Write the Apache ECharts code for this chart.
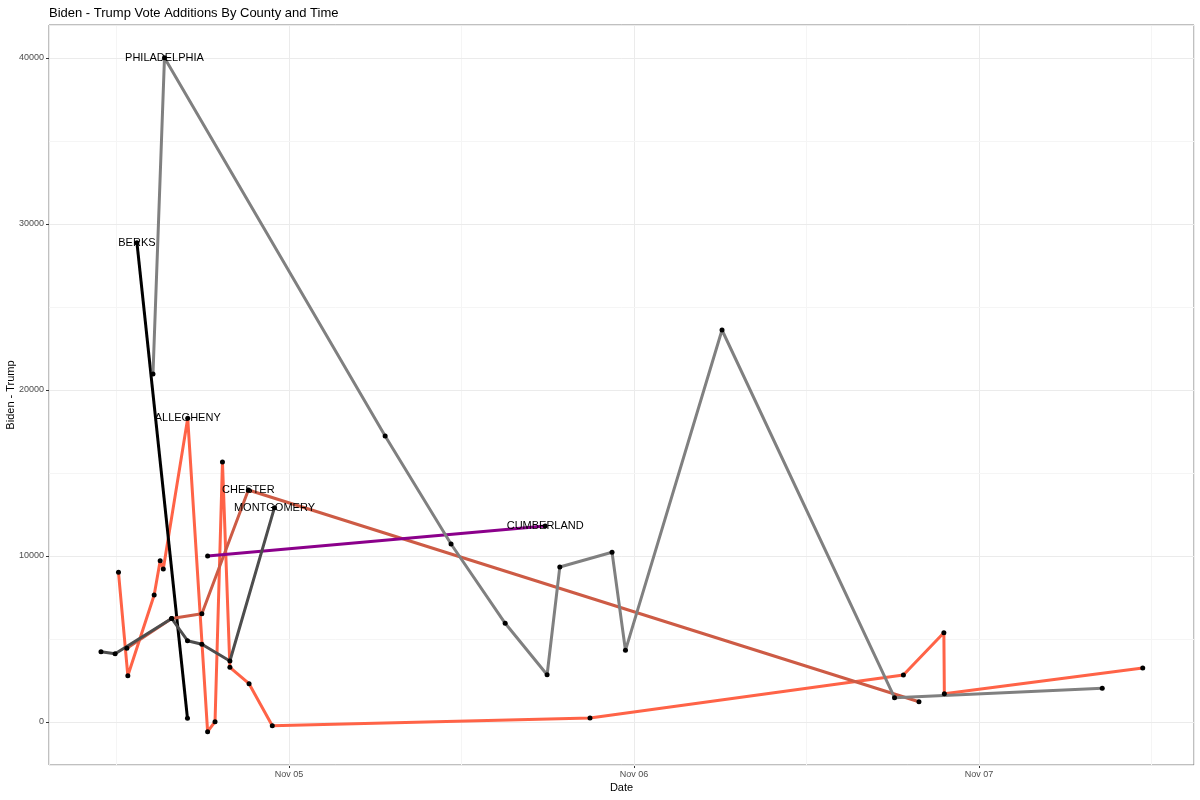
<!DOCTYPE html>
<html>
<head>
<meta charset="utf-8">
<script src="https://cdn.jsdelivr.net/npm/echarts@6/dist/echarts.min.js"></script>
<style>
html,body{margin:0;padding:0;background:#fff;}
#chart{width:1200px;height:800px;}
</style>
</head>
<body>
<div id="chart"></div>
<script>
// ---- data (time of report, Biden minus Trump vote addition) ----
const alleghenyTimes = ['2020-11-04 12:08','2020-11-04 12:47','2020-11-04 14:37','2020-11-04 15:02','2020-11-04 15:15','2020-11-04 16:57','2020-11-04 18:20','2020-11-04 18:51','2020-11-04 19:22','2020-11-04 19:53','2020-11-04 21:13','2020-11-04 22:50','2020-11-05 20:56','2020-11-06 18:44','2020-11-06 21:33','2020-11-06 21:35','2020-11-07 11:23'];
const alleghenyValues = [9018, 2789, 7651, 9717, 9217, 18295, -584, 18, 15663, 3295, 2307, -223, 241, 2831, 5380, 1705, 3253];

const berksTimes = ['2020-11-04 13:25','2020-11-04 16:56'];
const berksValues = [28873, 223];

const chesterTimes = ['2020-11-04 12:43','2020-11-04 15:50','2020-11-04 17:56','2020-11-04 21:10','2020-11-06 19:49'];
const chesterValues = [4440, 6235, 6524, 13976, 1223];

const cumberlandTimes = ['2020-11-04 18:20','2020-11-05 17:49'];
const cumberlandValues = [10000, 11807];

const montgomeryTimes = ['2020-11-04 10:55','2020-11-04 11:54','2020-11-04 15:50','2020-11-04 16:56','2020-11-04 17:56','2020-11-04 19:53','2020-11-04 22:59'];
const montgomeryValues = [4235, 4115, 6235, 4898, 4681, 3675, 12910];

const philadelphiaTimes = ['2020-11-04 14:32','2020-11-04 15:20','2020-11-05 06:41','2020-11-05 11:16','2020-11-05 15:02','2020-11-05 17:57','2020-11-05 18:50','2020-11-05 22:28','2020-11-05 23:24','2020-11-06 06:07','2020-11-06 18:07','2020-11-07 08:34'];
const philadelphiaValues = [20964, 40018, 17229, 10723, 5946, 2849, 9337, 10223, 4319, 23614, 1464, 2030];

const countyNames = ['ALLEGHENY','BERKS','CHESTER','CUMBERLAND','MONTGOMERY','PHILADELPHIA'];
const countyColors = ['#FF6347','#000000','#CD5B45','#8B008B','#4D4D4D','#808080'];
const monthNames = ['Jan','Feb','Mar','Apr','May','Jun','Jul','Aug','Sep','Oct','Nov','Dec'];

// minor (noon) grid positions on the time axis
const minorGridTimes = ['2020-11-04 12:00','2020-11-05 12:00','2020-11-06 12:00','2020-11-07 12:00'];

const xMinStr = '2020-11-04 07:18';
const xMaxStr = '2020-11-07 14:57';
const yMin = -2590;
const yMax = 41988;

function parseT(s) {
  const [d, t] = s.split(' ');
  const [Y, M, D] = d.split('-').map(Number);
  const [h, m] = t.split(':').map(Number);
  return new Date(Y, M - 1, D, h, m).getTime();
}
function pad(n){return (n < 10 ? '0' : '') + n;}

const allTimes = [alleghenyTimes, berksTimes, chesterTimes, cumberlandTimes, montgomeryTimes, philadelphiaTimes];
const allValues = [alleghenyValues, berksValues, chesterValues, cumberlandValues, montgomeryValues, philadelphiaValues];

const series = countyNames.map((name, i) => {
  const vals = allValues[i];
  const maxIdx = vals.indexOf(Math.max(...vals));
  const data = allTimes[i].map((t, j) => {
    const item = { value: [parseT(t), vals[j]] };
    if (j === maxIdx) {
      item.label = {
        show: true, position: 'inside', formatter: name,
        color: '#000', fontSize: 11, fontFamily: 'Liberation Sans, Arial, sans-serif'
      };
    }
    return item;
  });
  return {
    name: name, type: 'line', data: data,
    symbol: 'circle', symbolSize: 5, showSymbol: true,
    itemStyle: { color: '#000' },
    lineStyle: { color: countyColors[i], width: 3 },
    emphasis: { disabled: true },
    z: 10
  };
});

series.unshift({
  type: 'line', data: [], silent: true, z: 0,
  markLine: {
    silent: true, symbol: 'none', animation: false, z: 0,
    label: { show: false },
    lineStyle: { color: '#f5f5f5', width: 1, type: 'solid' },
    emphasis: { disabled: true },
    data: minorGridTimes.map(t => ({ xAxis: parseT(t) }))
  }
});

const chart = echarts.init(document.getElementById('chart'), null, { renderer: 'canvas' });
chart.setOption({
  animation: false,
  backgroundColor: '#fff',
  textStyle: { fontFamily: 'Liberation Sans, Arial, sans-serif' },
  title: {
    text: 'Biden - Trump Vote Additions By County and Time',
    left: 44, top: 2,
    textStyle: { fontSize: 13, fontWeight: 'normal', color: '#000' }
  },
  grid: {
    show: true, borderColor: '#808080', borderWidth: 1, backgroundColor: 'transparent',
    left: 49, right: 6, top: 25, bottom: 35,
    containLabel: false, outerBoundsMode: 'none'
  },
  xAxis: {
    type: 'time', min: parseT(xMinStr), max: parseT(xMaxStr),
    minInterval: 86400000, maxInterval: 86400000,
    name: 'Date', nameLocation: 'middle', nameGap: 17, nameMoveOverlap: false,
    nameTextStyle: { fontSize: 11, color: '#000' },
    axisLine: { show: false, onZero: false },
    axisTick: { show: true, length: 3, lineStyle: { color: '#333' } },
    axisLabel: {
      fontSize: 9, color: '#4d4d4d', margin: 5,
      showMinLabel: false, showMaxLabel: false,
      formatter: function (v) {
        const d = new Date(v);
        if (d.getHours() !== 0 || d.getMinutes() !== 0) return '';
        return monthNames[d.getMonth()] + ' ' + pad(d.getDate());
      }
    },
    splitLine: { show: true, lineStyle: { color: '#ebebeb', width: 1 } }
  },
  yAxis: [
    {
      type: 'value', min: yMin, max: yMax, splitNumber: 4,
      name: 'Biden - Trump', nameLocation: 'middle', nameGap: 33, nameRotate: 90, nameMoveOverlap: false,
      nameTextStyle: { fontSize: 11, color: '#000' },
      axisLine: { show: false, onZero: false },
      axisTick: { show: true, length: 3, lineStyle: { color: '#333' } },
      axisLabel: {
        fontSize: 9, color: '#4d4d4d', margin: 5,
        showMinLabel: false, showMaxLabel: false,
        formatter: function (v) { return (v % 10000 === 0) ? String(v) : ''; }
      },
      splitLine: { show: true, lineStyle: { color: '#ebebeb', width: 1 } },
      z: 2
    },
    {
      type: 'value', min: yMin, max: yMax, splitNumber: 9,
      axisLine: { show: false, onZero: false }, axisTick: { show: false }, axisLabel: { show: false },
      splitLine: { show: true, lineStyle: { color: '#f5f5f5', width: 1 } },
      z: 1
    }
  ],
  series: series
});
</script>
</body>
</html>
